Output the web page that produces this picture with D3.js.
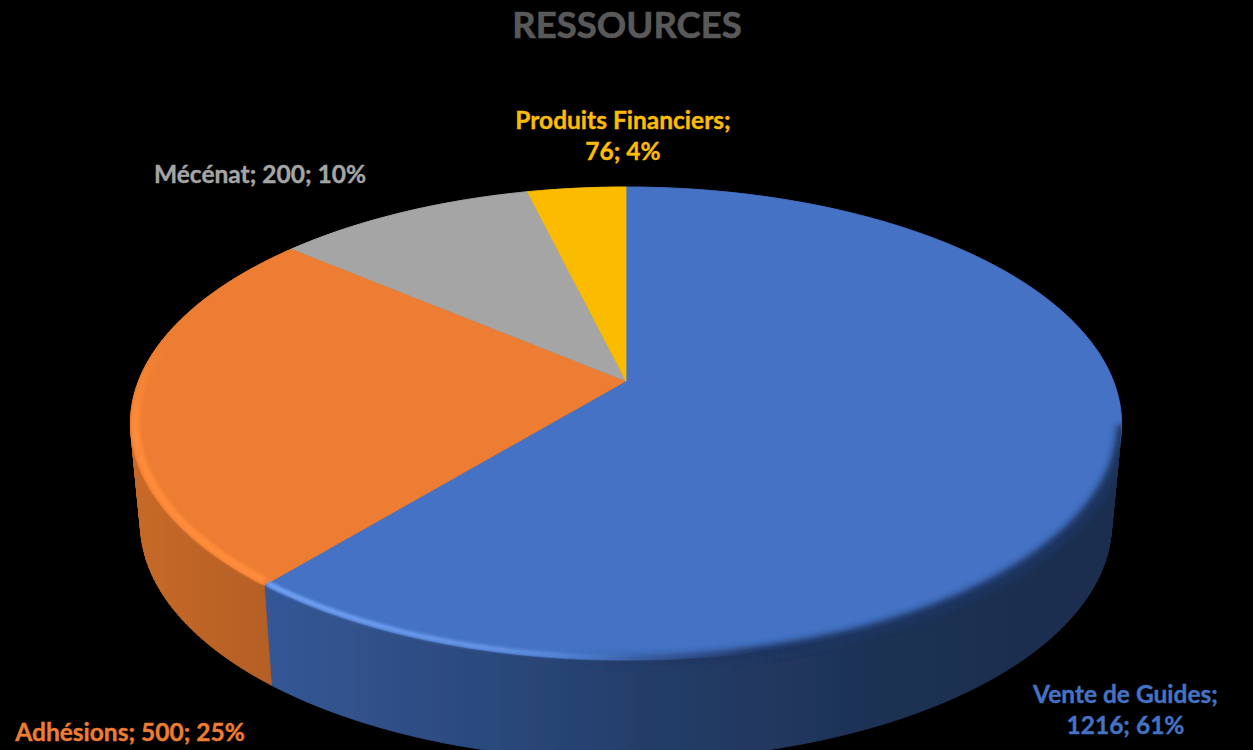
<!DOCTYPE html>
<html>
<head>
<meta charset="utf-8">
<script src="https://cdn.jsdelivr.net/npm/d3@7"></script>
<style>
  html, body { margin: 0; background: #000; overflow: hidden; }
  text { font-family: Lato, "Open Sans", sans-serif; font-weight: 700; text-anchor: middle; paint-order: stroke; }
</style>
</head>
<body>
<svg width="1253" height="750"></svg>
<script>
const CATEGORIES = ["Vente de Guides", "Adhésions", "Mécénat", "Produits Financiers"];
const VALUES = [1216, 500, 200, 76];
const COLORS = ["#4472C4", "#ED7D31", "#A5A5A5", "#FBBC04"];
const TITLE = "RESSOURCES";

const total = d3.sum(VALUES);
const pct = (v) => Math.round((v / total) * 100);

// label lines, the way excel wrapped them
const LABEL_LINES = [
  [`${CATEGORIES[0]};`, `${VALUES[0]}; ${pct(VALUES[0])}%`],
  [`${CATEGORIES[1]}; ${VALUES[1]}; ${pct(VALUES[1])}%`],
  [`${CATEGORIES[2]}; ${VALUES[2]}; ${pct(VALUES[2])}%`],
  [`${CATEGORIES[3]};`, `${VALUES[3]}; ${pct(VALUES[3])}%`],
];

// layout
const cx = 626, cy = 381;
const persp = -0.18, radX = 487.4, radY = 228.9;
const wallDrop = 100, wallShrink = 0.98;
const labelAt = [[1125.5, 703], [130, 741], [260, 183], [623, 129]];
const lineGap = 31;

const svg = d3.select("svg");
const defs = svg.append("defs");
defs.append("filter").attr("id", "blur3").attr("x", "-10%").attr("y", "-10%").attr("width", "120%").attr("height", "120%")
  .append("feGaussianBlur").attr("stdDeviation", 3);
defs.append("filter").attr("id", "blur1").attr("x", "-10%").attr("y", "-10%").attr("width", "120%").attr("height", "120%")
  .append("feGaussianBlur").attr("stdDeviation", 1.5);
defs.append("filter").attr("id", "soft").attr("x", "-5%").attr("y", "-5%").attr("width", "110%").attr("height", "110%")
  .append("feGaussianBlur").attr("stdDeviation", 0.6);

// tilted disc: angle clockwise from 12 o'clock, r as share of the radius
function project(theta, r = 1) {
  const u = r * Math.sin(theta), v = -r * Math.cos(theta);
  const w = 1 + persp * v;
  return [cx + (radX * u) / w, cy + (radY * v) / w];
}
function bottomPoint(theta) {
  const p = project(theta);
  return [cx + wallShrink * (p[0] - cx), p[1] + wallDrop];
}
function arcAngles(a0, a1) {
  const n = Math.max(2, Math.ceil(Math.abs(a1 - a0) * 60));
  return d3.range(n + 1).map((i) => a0 + ((a1 - a0) * i) / n);
}

const line = d3.line();
const slices = d3.pie().sort(null).value((d) => d)(VALUES);

// whole outline of the cake, the soft rim must not spill over it
const allAngles = arcAngles(0, Math.PI * 2);
defs.append("clipPath").attr("id", "cake").append("path")
  .attr("d", line(d3.polygonHull(allAngles.map((a) => project(a)).concat(allAngles.map(bottomPoint)))) + "Z");

// shade of the side wall going left to right
const shade = d3.scaleLinear().domain([131, 276, 626, 900, 1122]).range([0.84, 0.76, 0.55, 0.42, 0.4]);
slices.forEach((s, i) => {
  const base = d3.rgb(COLORS[i]);
  const g = defs.append("linearGradient").attr("id", `wall${i}`)
    .attr("gradientUnits", "userSpaceOnUse")
    .attr("x1", 131).attr("x2", 1122).attr("y1", 0).attr("y2", 0);
  shade.domain().forEach((x) => {
    const k = shade(x);
    g.append("stop").attr("offset", (x - 131) / 991)
      .attr("stop-color", d3.rgb(base.r * k, base.g * k, base.b * k).formatHex());
  });
});

const chart = svg.append("g").attr("filter", "url(#soft)");

// side walls as small quads so the outline stays closed at the widest points,
// polygonHull keeps the winding the same for all of them
chart.selectAll(".wall").data(slices).enter().append("path")
  .classed("wall", true)
  .attr("fill", (d, i) => `url(#wall${i})`)
  .attr("stroke", (d, i) => `url(#wall${i})`)
  .attr("stroke-width", 0.8)
  .attr("d", (d) => {
    const as = arcAngles(d.startAngle, d.endAngle);
    return d3.pairs(as).map(([a, b]) =>
      line(d3.polygonHull([project(a), project(b), bottomPoint(b), bottomPoint(a)])) + "Z"
    ).join("");
  });

// top faces
chart.selectAll(".face").data(slices).enter().append("path")
  .classed("face", true)
  .attr("fill", (d, i) => COLORS[i])
  .attr("stroke", (d, i) => COLORS[i])
  .attr("stroke-width", 0.8)
  .attr("d", (d) => line([[cx, cy]].concat(arcAngles(d.startAngle, d.endAngle).map((a) => project(a)))) + "Z");

// dark soft rim on the right side
const rimFade = defs.append("linearGradient").attr("id", "rimFade")
  .attr("gradientUnits", "userSpaceOnUse").attr("x1", 560).attr("x2", 760).attr("y1", 0).attr("y2", 0);
rimFade.append("stop").attr("offset", 0).attr("stop-color", "#1f3561").attr("stop-opacity", 0);
rimFade.append("stop").attr("offset", 1).attr("stop-color", "#1f3561").attr("stop-opacity", 1);
chart.append("g").attr("clip-path", "url(#cake)").append("path")
  .attr("fill", "none").attr("stroke", "url(#rimFade)").attr("stroke-width", 12)
  .attr("filter", "url(#blur3)")
  .attr("d", line(arcAngles(Math.PI * 0.56, Math.PI * 1.08).map((a) => project(a, 1.002))));

// lit bevel on the left side, blue one fades out towards the front
const blueFade = defs.append("linearGradient").attr("id", "blueFade")
  .attr("gradientUnits", "userSpaceOnUse").attr("x1", 265).attr("x2", 640).attr("y1", 0).attr("y2", 0);
blueFade.append("stop").attr("offset", 0).attr("stop-color", "#74a3f5").attr("stop-opacity", 1);
blueFade.append("stop").attr("offset", 0.6).attr("stop-color", "#74a3f5").attr("stop-opacity", 0.7);
blueFade.append("stop").attr("offset", 1).attr("stop-color", "#74a3f5").attr("stop-opacity", 0);
chart.append("path")
  .attr("fill", "none").attr("stroke", "url(#blueFade)").attr("stroke-width", 5)
  .attr("filter", "url(#blur1)")
  .attr("d", line(arcAngles(Math.PI * 0.98, slices[0].endAngle).map((a) => project(a, 0.992))));

const orangeFade = defs.append("linearGradient").attr("id", "orangeFade")
  .attr("gradientUnits", "userSpaceOnUse").attr("x1", 0).attr("x2", 0).attr("y1", 340).attr("y2", 430);
orangeFade.append("stop").attr("offset", 0).attr("stop-color", "#FF8B3A").attr("stop-opacity", 0);
orangeFade.append("stop").attr("offset", 1).attr("stop-color", "#FF8B3A").attr("stop-opacity", 1);
chart.append("path")
  .attr("fill", "none").attr("stroke", "url(#orangeFade)").attr("stroke-width", 8)
  .attr("filter", "url(#blur1)")
  .attr("d", line(arcAngles(slices[1].startAngle + 0.01, slices[1].startAngle + 1.05).map((a) => project(a, 0.99))));

// title and labels
svg.append("text").attr("x", 627).attr("y", 38)
  .attr("fill", "#595959").attr("stroke", "#595959").attr("stroke-width", 0.6)
  .attr("font-size", 36.5).text(TITLE);

const labels = svg.selectAll(".label").data(LABEL_LINES).enter().append("text")
  .classed("label", true)
  .attr("font-size", 24.5)
  .attr("stroke-width", 0.4)
  .attr("stroke", (d, i) => COLORS[i])
  .attr("fill", (d, i) => COLORS[i]);
labels.selectAll("tspan").data((d, i) => d.map((t, j) => ({ t, i, j }))).enter().append("tspan")
  .attr("x", (d) => labelAt[d.i][0])
  .attr("y", (d) => labelAt[d.i][1] + d.j * lineGap)
  .text((d) => d.t);
</script>
</body>
</html>
